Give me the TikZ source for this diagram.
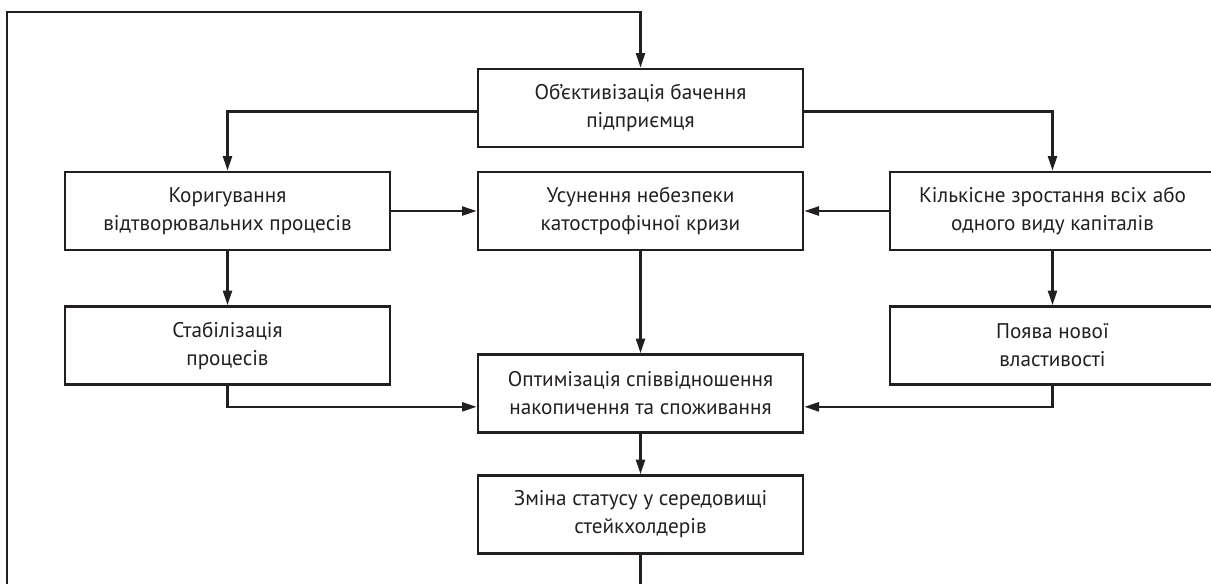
\documentclass[tikz,border=0pt]{standalone}
\usepackage{fontspec}
\setmainfont{PT Sans}
\usetikzlibrary{arrows.meta}
\definecolor{ink}{HTML}{231F20}
\begin{document}
\begin{tikzpicture}[x=0.75pt,y=-0.75pt,
  box/.style={draw=ink,line width=2pt,text=ink,minimum width=243.75pt,minimum height=58.5pt,
    inner sep=0pt,align=center,font=\fontsize{15.9}{21}\selectfont},
  conn/.style={draw=ink,line width=1.6pt},
  arr/.style={conn,-{Triangle[length=11pt,width=6.8pt]}}]
\useasboundingbox (0,0) rectangle (1211,583);
\node[box] (top) at (640.5,108) {Об’єктивізація бачення\\підприємця};
\node[box] (lb) at (227.5,211) {Коригування\\відтворювальних процесів};
\node[box] (mb) at (640.5,211) {Усунення небезпеки\\катострофічної кризи};
\node[box] (rb) at (1052.5,211) {Кількісне зростання всіх або\\одного виду капіталів};
\node[box] (st) at (227.5,345.5) {Стабілізація\\процесів};
\node[box] (pv) at (1052.5,345.5) {Поява нової\\властивості};
\node[box] (op) at (640.5,393.5) {Оптимізація співвідношення\\накопичення та споживання};
\node[box] (zm) at (640.5,514.5) {Зміна статусу у середовищі\\стейкхолдерів};
\coordinate (lc) at (7,12);
\draw[arr] (zm.south) -- ++(0,80) -| (lc) -| (top.north);
\draw[arr] ([yshift=-2.6pt]top.west) -| (lb.north);
\draw[arr] ([yshift=-2.6pt]top.east) -| (rb.north);
\draw[arr] (lb.east) -- (mb.west);
\draw[arr] (rb.west) -- (mb.east);
\draw[arr] (lb.south) -- (st.north);
\draw[arr] (rb.south) -- (pv.north);
\draw[arr] (mb.south) -- (op.north);
\draw[arr] (st.south) |- ([yshift=-10pt]op.west);
\draw[arr] (pv.south) |- ([yshift=-10pt]op.east);
\draw[arr] (op.south) -- (zm.north);
\end{tikzpicture}
\end{document}
